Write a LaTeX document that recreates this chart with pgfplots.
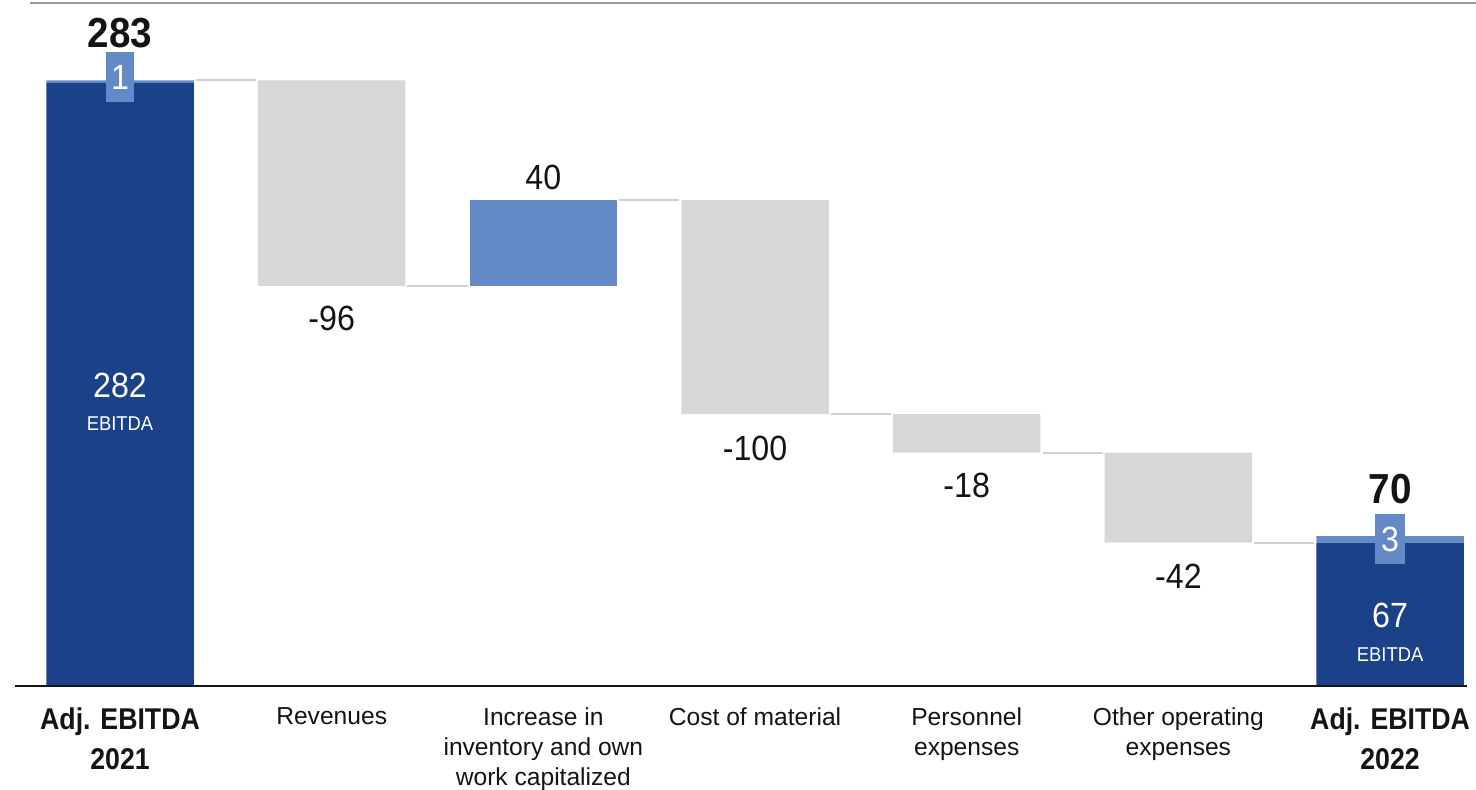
\documentclass[border=0pt]{standalone}
\usepackage{pgfplots}
\pgfplotsset{compat=1.18}
\usepackage{pgfplotstable}
\usepackage{fontspec}
\setmainfont{Liberation Sans}
\newfontfamily\narrowfont[FakeStretch=0.92]{Liberation Sans}
\newfontfamily\headfont[FakeStretch=0.89]{Liberation Sans}

\definecolor{ebitdablue}{RGB}{27,66,136}
\definecolor{adjblue}{RGB}{99,138,198}
\definecolor{stepgray}{RGB}{214,215,217}
\definecolor{linkgray}{RGB}{208,208,208}
\definecolor{rulegray}{RGB}{150,150,150}
\definecolor{ink}{RGB}{20,20,20}

% EBITDA bridge: invisible base, decreases, increases, EBITDA, adjustments
\pgfplotstableread{
x base dec inc tot adj
0 0   0   0  282 1
1 187 96  0  0   0
2 187 0   40 0   0
3 127 100 0  0   0
4 109 18  0  0   0
5 67  42  0  0   0
6 0   0   0  67  3
}\bridge

\pgfplotsset{bridgeframe/.style={
  scale only axis, width=738pt, height=394.5pt,
  xmin=-0.567, xmax=6.406, ymin=-48.13, ymax=320.56,
  axis lines=none, clip=false}}

\begin{document}
\begin{tikzpicture}
% bars
\begin{axis}[bridgeframe, ybar stacked, bar width=73.75pt]
\addplot[draw=none, fill=none] table[x=x,y=base]{\bridge};
\addplot[draw=none, fill=stepgray] table[x=x,y=dec]{\bridge};
\addplot[draw=none, fill=adjblue] table[x=x,y=inc]{\bridge};
\addplot[draw=none, fill=ebitdablue] table[x=x,y=tot]{\bridge};
\addplot[draw=none, fill=adjblue] table[x=x,y=adj]{\bridge};
\end{axis}
% connectors, rules and labels
\begin{axis}[bridgeframe]
\addplot[linkgray, line width=1pt] coordinates {(0.358,283) (0.642,283)};
\addplot[linkgray, line width=1pt] coordinates {(1.358,187) (1.642,187)};
\addplot[linkgray, line width=1pt] coordinates {(2.358,227) (2.642,227)};
\addplot[linkgray, line width=1pt] coordinates {(3.358,127) (3.642,127)};
\addplot[linkgray, line width=1pt] coordinates {(4.358,109) (4.642,109)};
\addplot[linkgray, line width=1pt] coordinates {(5.358,67) (5.642,67)};

\draw[ink, line width=0.8pt] (axis cs:-0.496,0) -- (axis cs:6.364,0);
\draw[rulegray, line width=1.3pt] (rel axis cs:0.0203,0.9962) -- (rel axis cs:1,0.9962);

% totals
\node[ink, anchor=base, font=\narrowfont\bfseries\fontsize{21}{24}\selectfont, yshift=16.5pt] at (axis cs:0,283) {283};
\node[ink, anchor=base, font=\narrowfont\bfseries\fontsize{21}{24}\selectfont, yshift=16.5pt] at (axis cs:6,70) {70};

% adjustments
\node[fill=adjblue, text=white, font=\narrowfont\fontsize{17.5}{20}\selectfont, minimum height=25pt, inner xsep=2.5pt, inner ysep=0pt, yshift=2pt] at (axis cs:0,282.5) {1};
\node[fill=adjblue, text=white, font=\narrowfont\fontsize{17.5}{20}\selectfont, minimum height=25pt, inner xsep=3pt, inner ysep=0pt] at (axis cs:6,68.5) {3};

% EBITDA inside the bars
\node[white, anchor=base, font=\narrowfont\fontsize{17.5}{20}\selectfont, yshift=-6.5pt] at (axis cs:0,141) {282};
\node[white, anchor=base, font=\narrowfont\fontsize{10}{12}\selectfont, yshift=-23pt] at (axis cs:0,141) {EBITDA};
\node[white, anchor=base, font=\narrowfont\fontsize{17.5}{20}\selectfont, yshift=-6.5pt] at (axis cs:6,33.5) {67};
\node[white, anchor=base, font=\narrowfont\fontsize{10}{12}\selectfont, yshift=-23.5pt] at (axis cs:6,33.5) {EBITDA};

% step values
\node[ink, anchor=base, font=\narrowfont\fontsize{17.5}{20}\selectfont, yshift=-22.5pt] at (axis cs:1,187) {-96};
\node[ink, anchor=base, font=\narrowfont\fontsize{17.5}{20}\selectfont, yshift=5.5pt] at (axis cs:2,227) {40};
\node[ink, anchor=base, font=\narrowfont\fontsize{17.5}{20}\selectfont, yshift=-23pt] at (axis cs:3,127) {-100};
\node[ink, anchor=base, font=\narrowfont\fontsize{17.5}{20}\selectfont, yshift=-22.5pt] at (axis cs:4,109) {-18};
\node[ink, anchor=base, font=\narrowfont\fontsize{17.5}{20}\selectfont, yshift=-23pt] at (axis cs:5,67) {-42};

% categories
\tikzset{cat/.style={ink, anchor=north, align=center, inner sep=0pt, yshift=-10.5pt, font=\fontsize{12.3}{15}\selectfont},
         catb/.style={ink, anchor=north, align=center, inner sep=0pt, yshift=-10.5pt, font=\headfont\bfseries\fontsize{15}{20}\selectfont}}
\node[catb] at (axis cs:0,0) {Adj. EBITDA\\2021};
\node[cat] at (axis cs:1,0) {Revenues};
\node[cat] at (axis cs:2,0) {Increase in\\inventory and own\\work capitalized};
\node[cat] at (axis cs:3,0) {Cost of material};
\node[cat] at (axis cs:4,0) {Personnel\\expenses};
\node[cat] at (axis cs:5,0) {Other operating\\expenses};
\node[catb] at (axis cs:6,0) {Adj. EBITDA\\2022};
\end{axis}
\pgfresetboundingbox
\path (current axis.south west) rectangle (current axis.north east);
\end{tikzpicture}
\end{document}
